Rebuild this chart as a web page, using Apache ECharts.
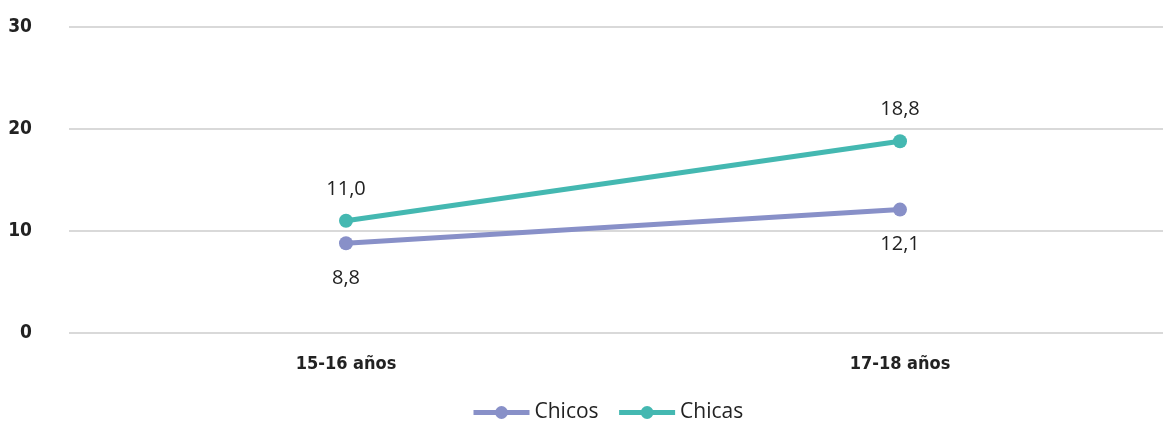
<!DOCTYPE html>
<html><head><meta charset="utf-8">
<script src="https://cdn.jsdelivr.net/npm/echarts@6/dist/echarts.min.js"></script>
<style>html,body{margin:0;padding:0;background:#fff}#c{width:1163px;height:423px}</style>
</head><body><div id="c"></div>
<script>
var categories = ['15-16 años', '17-18 años'];
var chicos = [8.8, 12.1];
var chicas = [11.0, 18.8];
var yTicks = [0, 10, 20, 30];

var chart = echarts.init(document.getElementById('c'));
var fmt = function (p) { return p.value.toFixed(1).replace('.', ','); };
var narrow = "'Liberation Sans Narrow', 'DejaVu Sans Condensed', 'Liberation Sans', sans-serif";
chart.setOption({
  animation: false,
  grid: { left: 69, width: 1108, top: 27, bottom: 90, outerBoundsMode: 'none', containLabel: false },
  legend: {
    top: 397, left: 466, itemWidth: 56, itemHeight: 16, itemGap: 18,
    lineStyle: { width: 5 },
    textStyle: { fontFamily: 'Open Sans', fontSize: 21, color: '#222' },
    data: ['Chicos', 'Chicas']
  },
  xAxis: {
    type: 'category', data: categories, boundaryGap: true,
    axisLine: { show: false }, axisTick: { show: false },
    axisLabel: { margin: 22, fontFamily: narrow, fontWeight: 'bold', fontSize: 18, color: '#222' }
  },
  yAxis: {
    type: 'value', min: yTicks[0], max: yTicks[yTicks.length - 1], interval: 10,
    axisLine: { show: false }, axisTick: { show: false },
    axisLabel: { margin: 37, fontFamily: narrow, fontWeight: 'bold', fontSize: 19, color: '#222' },
    splitLine: { lineStyle: { color: '#d9d9d9', width: 2 } }
  },
  series: [
    {
      name: 'Chicos', type: 'line', data: chicos, color: '#8890c8',
      symbol: 'circle', symbolSize: 14, lineStyle: { width: 5 },
      label: { show: true, position: 'bottom', distance: 18, formatter: fmt, fontFamily: 'Open Sans', fontSize: 20, color: '#222' }
    },
    {
      name: 'Chicas', type: 'line', data: chicas, color: '#44b8b1',
      symbol: 'circle', symbolSize: 14, lineStyle: { width: 5 },
      label: { show: true, position: 'top', distance: 15, formatter: fmt, fontFamily: 'Open Sans', fontSize: 20, color: '#222' }
    }
  ]
});
</script></body></html>
